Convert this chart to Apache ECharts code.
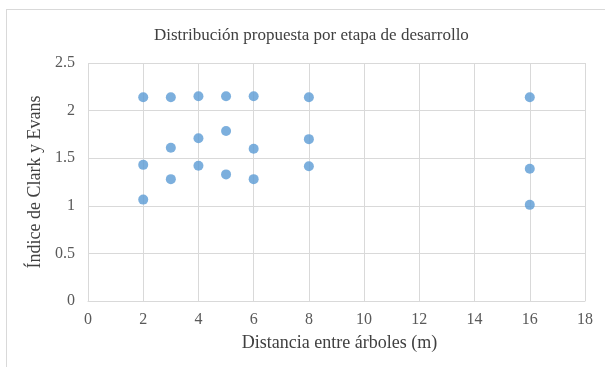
<!DOCTYPE html>
<html>
<head>
<meta charset="utf-8">
<script src="https://cdn.jsdelivr.net/npm/echarts@6/dist/echarts.min.js"></script>
<style>
  html, body { margin: 0; padding: 0; background: #fff; }
  #frame { position: absolute; left: 6px; top: 9px; width: 620px; height: 380px; border: 1px solid #d9d9d9; box-sizing: border-box; }
  #chart { position: absolute; left: 0; top: 0; width: 605px; height: 367px; }
</style>
</head>
<body>
<div id="frame"></div>
<div id="chart"></div>
<script>
// Distance between trees (m) and the Clark–Evans index per stage
const distancias = [2, 2, 2, 3, 3, 3, 4, 4, 4, 5, 5, 5, 6, 6, 6, 8, 8, 8, 16, 16, 16];
const indices    = [2.14, 1.43, 1.065, 2.14, 1.61, 1.28, 2.15, 1.71, 1.42, 2.15, 1.785, 1.33, 2.15, 1.60, 1.28, 2.14, 1.70, 1.415, 2.14, 1.39, 1.01];
const xTicks = [0, 2, 4, 6, 8, 10, 12, 14, 16, 18];
const yTicks = [0, 0.5, 1, 1.5, 2, 2.5];

const puntos = distancias.map((d, i) => [d, indices[i]]);
const font = '"Liberation Serif", "Times New Roman", serif';

const chart = echarts.init(document.getElementById('chart'), null, { renderer: 'canvas' });
chart.setOption({
  animation: false,
  title: {
    text: 'Distribución propuesta por etapa de desarrollo',
    left: 149, top: 22,
    textStyle: { fontFamily: font, fontSize: 17, fontWeight: 'normal', color: '#404040' }
  },
  grid: { left: 88, top: 63, right: 20, bottom: 66 },
  xAxis: {
    type: 'value', min: xTicks[0], max: xTicks[xTicks.length - 1], interval: 2,
    name: 'Distancia entre árboles (m)', nameLocation: 'middle', nameGap: 33,
    nameTextStyle: { fontFamily: font, fontSize: 18, color: '#404040', padding: [0, 0, 0, 6] },
    axisLine: { show: true, lineStyle: { color: '#d9d9d9' } },
    axisTick: { show: false },
    axisLabel: { fontFamily: font, fontSize: 16, color: '#595959', margin: 11 },
    splitLine: { show: true, lineStyle: { color: '#d9d9d9' } }
  },
  yAxis: {
    type: 'value', min: yTicks[0], max: yTicks[yTicks.length - 1], interval: 0.5,
    name: 'Índice de Clark y Evans', nameLocation: 'middle', nameGap: 42,
    nameTextStyle: { fontFamily: font, fontSize: 18, color: '#404040' },
    axisLine: { show: false },
    axisTick: { show: false },
    axisLabel: { fontFamily: font, fontSize: 16, color: '#595959', margin: 13 },
    splitLine: { show: true, lineStyle: { color: '#d9d9d9' } }
  },
  series: [{
    type: 'scatter',
    data: puntos,
    symbolSize: 10,
    itemStyle: { color: '#5B9BD5' }
  }]
});
</script>
</body>
</html>
